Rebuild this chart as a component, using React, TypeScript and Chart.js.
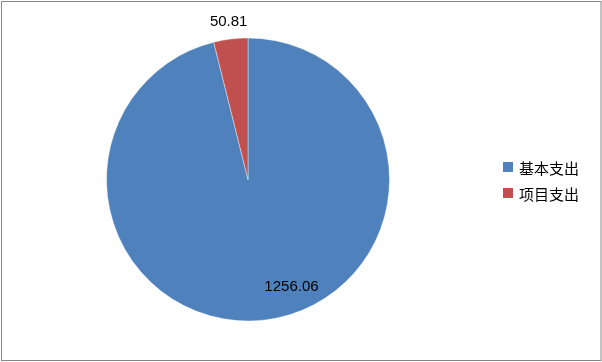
import React, { useEffect, useRef } from "react";
import { Chart, registerables } from "chart.js";

Chart.register(...registerables);

const categories = ["基本支出", "项目支出"];
const values = [1256.06, 50.81];
const valueLabels = ["1256.06", "50.81"];
const colors = ["#4F81BD", "#C0504D"];

// label placement: angle shift (deg) from slice middle, radius factor
const labelPlacement = [
  { shift: -15, r: 0.82 },
  { shift: 0, r: 1.12 },
];

const decorPlugin = {
  id: "decor",
  afterDraw(chart: any) {
    const ctx = chart.ctx;
    ctx.save();
    // outer border
    ctx.strokeStyle = "#878787";
    ctx.lineWidth = 1;
    ctx.strokeRect(1.5, 1.5, 599.5, 359);

    // data labels
    const meta = chart.getDatasetMeta(0);
    ctx.fillStyle = "#000";
    ctx.font = "15px 'Liberation Sans', Arial, sans-serif";
    ctx.textAlign = "center";
    ctx.textBaseline = "middle";
    meta.data.forEach((arc: any, i: number) => {
      const p = arc.getProps(["x", "y", "startAngle", "endAngle", "outerRadius"], true);
      const mid = (p.startAngle + p.endAngle) / 2 + (labelPlacement[i].shift * Math.PI) / 180;
      const rr = p.outerRadius * labelPlacement[i].r;
      ctx.fillText(valueLabels[i], p.x + Math.cos(mid) * rr, p.y + Math.sin(mid) * rr);
    });

    // legend
    const lx = 503;
    const ly0 = 167;
    const gap = 26;
    ctx.textAlign = "left";
    ctx.font = "15px 'Noto Sans CJK SC', sans-serif";
    categories.forEach((c, i) => {
      const y = ly0 + i * gap;
      ctx.fillStyle = colors[i];
      ctx.fillRect(lx, y - 5, 10, 10);
      ctx.fillStyle = "#000";
      ctx.fillText(c, lx + 16, y + 1);
    });
    ctx.restore();
  },
};

export default function App() {
  const ref = useRef<HTMLCanvasElement>(null);
  useEffect(() => {
    document.body.style.margin = "0";
    const chart = new Chart(ref.current!, {
      type: "pie",
      data: {
        labels: categories,
        datasets: [
          {
            data: values,
            backgroundColor: colors,
            borderColor: "rgba(255,255,255,0.4)",
            borderWidth: 1,
          },
        ],
      },
      options: {
        animation: false,
        responsive: false,
        layout: { padding: { left: 106, right: 212, top: 37, bottom: 40 } },
        plugins: { legend: { display: false }, tooltip: { enabled: false } },
      },
      plugins: [decorPlugin],
    });
    return () => chart.destroy();
  }, []);
  return (
    <div style={{ position: "fixed", left: 0, top: 0, width: 602, height: 362, background: "#fff" }}>
      <canvas ref={ref} width={602} height={362} />
    </div>
  );
}
